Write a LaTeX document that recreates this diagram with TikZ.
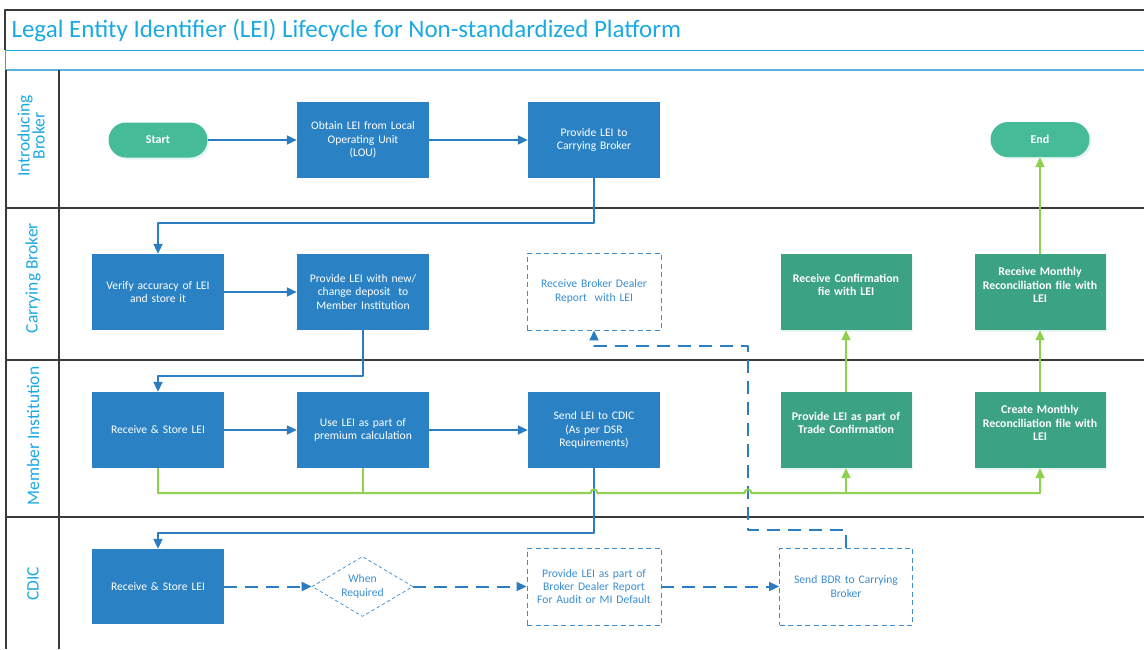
\documentclass[tikz,border=0pt]{standalone}
\usepackage{fontspec}
\setmainfont{Carlito}
\usetikzlibrary{arrows.meta,shapes.geometric,calc,shadows}

\definecolor{titlecyan}{HTML}{1BA9E1}
\definecolor{bandblue}{HTML}{5AB3DC}
\definecolor{framegray}{HTML}{3A3A3A}
\definecolor{boxblue}{HTML}{2A82C5}
\definecolor{linkblue}{HTML}{2B7CC0}
\definecolor{dashblue}{HTML}{3A8DD0}
\definecolor{boxgreen}{HTML}{3BA284}
\definecolor{termgreen}{HTML}{45BB98}
\definecolor{flowgreen}{HTML}{8FD14F}

\tikzset{
  nodefont/.style={font=\fontsize{11.6}{13.4}\selectfont},
  bluebox/.style={nodefont, fill=boxblue, text=white, minimum width=132pt, minimum height=76pt, text width=128pt, align=center, inner sep=0pt},
  greenbox/.style={fill=boxgreen, minimum width=131pt, minimum height=76pt, inner sep=0pt,
    drop shadow={shadow xshift=1.5pt, shadow yshift=-1.5pt, fill=boxgreen!12, opacity=1}},
  greentext/.style={font=\fontsize{11.8}{13.5}\selectfont\bfseries, text=white, text width=128pt, align=center, inner sep=0pt, yshift=7pt},
  dashbox/.style={nodefont, draw=dashblue, line width=0.9pt, dash pattern=on 5pt off 3.5pt, text=dashblue, minimum width=134pt, minimum height=77pt, text width=130pt, align=center, inner sep=0pt},
  decision/.style={nodefont, diamond, draw=dashblue, line width=0.7pt, dash pattern=on 3.5pt off 2.5pt, text=dashblue, minimum width=101pt, minimum height=60pt, aspect=1.68, align=center, inner sep=0pt},
  terminal/.style={font=\fontsize{12}{14}\selectfont\bfseries, fill=termgreen, text=white, rounded corners=17.5pt, minimum width=99pt, minimum height=35pt,
    drop shadow={shadow xshift=2pt, shadow yshift=-2pt, fill=termgreen!15, opacity=1}},
  lanelabel/.style={rotate=90, text=titlecyan, font=\fontsize{17.5}{18}\selectfont, align=center},
  lanerule/.style={draw=framegray, line width=1.1pt},
  blueflow/.style={draw=linkblue, line width=2pt, ->},
  dashflow/.style={draw=linkblue, line width=2pt, dash pattern=on 13pt off 8pt, ->},
  greenflow/.style={draw=flowgreen, line width=2pt}
}

\begin{document}
\begin{tikzpicture}[x=1pt, y=-1pt, >={Triangle[length=10pt,width=9pt]}, line join=round]
\useasboundingbox (0,0) rectangle (1144,649);

% frame, title band and lanes
\draw[framegray, line width=1.4pt] (1144,10) -- (5,10) -- (5,50);
\draw[titlecyan, line width=1pt] (5,50) -- (1144,50) (5,50) -- (5,70);
\draw[bandblue, line width=1.6pt] (5,70) -- (1144,70);
\draw[lanerule] (6,70) -- (6,649) (59,70) -- (59,649);
\foreach \y in {208, 360, 517} {
  \draw[lanerule] (6,\y) -- (1144,\y);
}
\node[anchor=west, text=titlecyan, font=\fontsize{25}{28}\selectfont] (title) at (8,30) {Legal Entity Identifier (LEI) Lifecycle for Non-standardized Platform};

\node[lanelabel] (lane1) at (31,136) {Introducing\\[-3pt]Broker};
\node[lanelabel] (lane2) at (33,278) {Carrying Broker};
\node[lanelabel] (lane3) at (33,436) {Member Institution};
\node[lanelabel] (lane4) at (33,584) {CDIC};

% Introducing Broker
\node[terminal] (start) at (158,140) {Start};
\node[bluebox] (obtain) at (363,140) {Obtain LEI from Local\\Operating Unit\\(LOU)};
\node[bluebox] (provcb) at (594,140) {Provide LEI to\\Carrying Broker};
\node[terminal] (end) at (1040,139.5) {End};

% Carrying Broker
\node[bluebox] (verify) at (158,292) {Verify accuracy of LEI\\and store it};
\node[bluebox] (provnew) at (363,292) {Provide LEI with new/\\change deposit\ \ to\\Member Institution};
\node[dashbox] (recvbdr) at (594,291.5) {Receive Broker Dealer\\Report\ \ with LEI};
\node[greenbox, label={[greentext]center:{Receive Confirmation\\fie with LEI}}] (recvconf) at (846,292) {};
\node[greenbox, label={[greentext]center:{Receive Monthly\\Reconciliation file with\\LEI}}] (recvmon) at (1040,292) {};

% Member Institution
\node[bluebox] (recvmi) at (158,430) {Receive \& Store LEI};
\node[bluebox] (uselei) at (363,430) {Use LEI as part of\\premium calculation};
\node[bluebox] (sendcdic) at (594,430) {Send LEI to CDIC\\(As per DSR\\Requirements)};
\node[greenbox, label={[greentext]center:{Provide LEI as part of\\Trade Confirmation}}] (tradeconf) at (846,430) {};
\node[greenbox, label={[greentext]center:{Create Monthly\\Reconciliation file with\\LEI}}] (createmon) at (1040,430) {};

% CDIC
\node[bluebox, minimum height=75pt] (recvcdic) at (158,586.5) {Receive \& Store LEI};
\node[decision] (whenreq) at (362.5,586.5) {When\\Required};
\node[dashbox] (provbdr) at (594,586.5) {Provide LEI as part of\\Broker Dealer Report\\For Audit or MI Default};
\node[dashbox, minimum width=133pt] (sendbdr) at (846,586.5) {Send BDR to Carrying\\Broker};

% solid blue flow
\draw[blueflow] (start) -- (obtain);
\draw[blueflow] (obtain) -- (provcb);
\draw[blueflow] (provcb.south) -- ++(0,44.7) -| (verify.north);
\draw[blueflow] (verify) -- (provnew);
\draw[blueflow] (provnew.south) -- ++(0,45.7) -| (recvmi.north);
\draw[blueflow] (recvmi) -- (uselei);
\draw[blueflow] (uselei) -- (sendcdic);
\draw[blueflow] (sendcdic.south) -- ++(0,65) -| (recvcdic.north);

% dashed blue flow
\draw[dashflow] (recvcdic) -- (whenreq);
\draw[dashflow] (whenreq) -- (provbdr);
\draw[dashflow] (provbdr) -- (sendbdr);
\coordinate (bdrcol) at (748,346);
\draw[dashflow] (sendbdr.north) -- ++(0,-17.5) -| (bdrcol) -| (recvbdr.south);

% green flow with line hops
\coordinate (bus) at ($(recvmi.south)+(0,25)$);
\coordinate (hopA) at (sendcdic.south |- bus);
\coordinate (hopB) at (bdrcol |- bus);
\draw[greenflow, ->] (recvmi.south) -- (bus)
  -- ($(hopA)+(-3.5,0)$) .. controls +(0,-5) and +(0,-5) .. ($(hopA)+(3.5,0)$)
  -- ($(hopB)+(-3.5,0)$) .. controls +(0,-5) and +(0,-5) .. ($(hopB)+(3.5,0)$)
  -| (createmon.south);
\draw[greenflow] (uselei.south) -- (uselei.south |- bus);
\draw[greenflow, ->] (tradeconf.south |- bus) -- (tradeconf.south);
\draw[greenflow, ->] (tradeconf) -- (recvconf);
\draw[greenflow, ->] (createmon) -- (recvmon);
\draw[greenflow, ->] (recvmon) -- (end);
\end{tikzpicture}
\end{document}
